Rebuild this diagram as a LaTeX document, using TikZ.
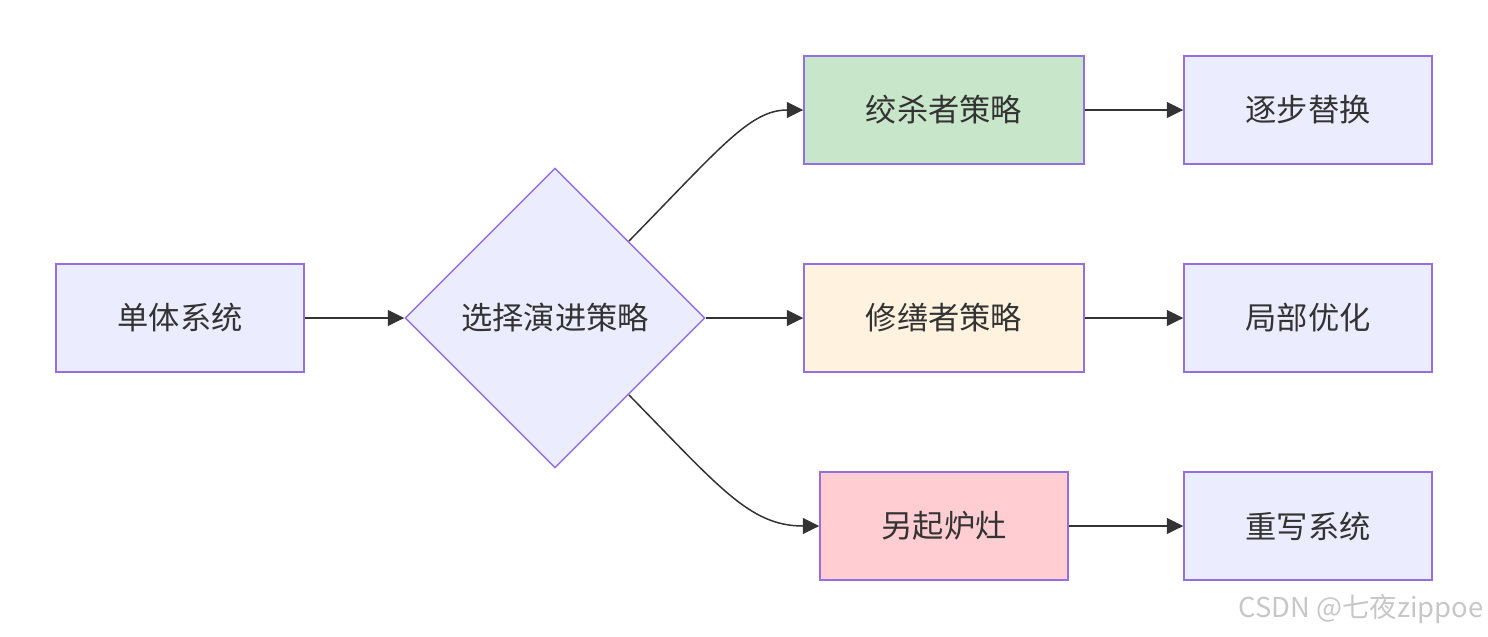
\documentclass[tikz,border=0pt]{standalone}
\usepackage{fontspec}
\setmainfont{Noto Sans CJK SC}
\usetikzlibrary{arrows.meta}
\usetikzlibrary{shapes.geometric}
\definecolor{nodefill}{HTML}{ECECFF}
\definecolor{nodeline}{HTML}{9370DB}
\definecolor{greenfill}{HTML}{C8E6C9}
\definecolor{creamfill}{HTML}{FFF3E0}
\definecolor{pinkfill}{HTML}{FFCDD2}
\definecolor{edgecol}{HTML}{333333}
\tikzset{box/.style = {draw = nodeline, fill = nodefill, line width = 0.85pt, minimum width = 4.96cm, minimum height = 2.16cm, inner sep = 0, text = edgecol, font = \fontsize{17.8}{20}\selectfont},
  wide/.style = {box, minimum width = 5.6cm},
  choice/.style = {box, diamond, minimum width = 6cm, minimum height = 6cm},
  link/.style = {draw = edgecol, line width = 0.85pt, -{Triangle[length = 0.33cm, width = 0.32cm]}}}

\begin{document}
\begin{tikzpicture}[x = 0.02cm, y = -0.02cm]
    \useasboundingbox (0, 0) rectangle (1488, 636);

    \node [box] (mono) at (180, 318) {单体系统};
    \node [choice] (pick) at (555, 318) {选择演进策略};
    \node [wide, fill = greenfill] (strangler) at (944, 110) {绞杀者策略};
    \node [wide, fill = creamfill] (repair) at (944, 318) {修缮者策略};
    \node [box, fill = pinkfill] (fresh) at (944, 526) {另起炉灶};
    \node [box] (replace) at (1308, 110) {逐步替换};
    \node [box] (optimize) at (1308, 318) {局部优化};
    \node [box] (rewrite) at (1308, 526) {重写系统};

    \coordinate (upper) at (629, 241);
    \coordinate (lower) at (629, 395);

    \draw [link] (mono) -- (pick.west);
    \draw [link] (pick.east) -- (repair);
    \draw [link] (upper) .. controls (720, 148) and (750, 110) .. (strangler.west);
    \draw [link] (lower) .. controls (720, 488) and (750, 526) .. (fresh.west);
    \draw [link] (strangler) -- (replace);
    \draw [link] (repair) -- (optimize);
    \draw [link] (fresh) -- (rewrite);

    \node [anchor = east, text = black!22, font = \fontsize{15.6}{18}\selectfont, inner sep = 0] (mark) at (1484, 609) {CSDN @七夜zippoe};
  \end{tikzpicture}
\end{document}
